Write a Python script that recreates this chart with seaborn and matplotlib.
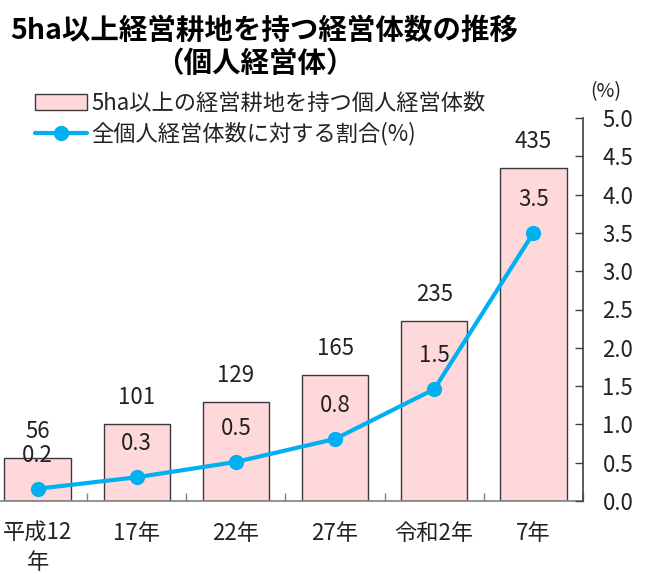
import numpy as np
import pandas as pd
import matplotlib
matplotlib.use("Agg")
import matplotlib.pyplot as plt
import seaborn as sns
from matplotlib.patches import Patch
from matplotlib.lines import Line2D
from matplotlib.ticker import MultipleLocator, FixedLocator

sns.set_theme(style="white")
plt.rcParams['font.family'] = ['Noto Sans CJK JP', 'DejaVu Sans']

categories = ["平成12\n年", "17年", "22年", "27年", "令和2年", "7年"]
farms = [56, 101, 129, 165, 235, 435]
ratio = [0.16, 0.31, 0.51, 0.81, 1.46, 3.5]

bar_label = "5ha以上の経営耕地を持つ個人経営体数"
line_label = "全個人経営体数に対する割合(%)"
title1 = "5ha以上経営耕地を持つ経営体数の推移"
title2 = "（個人経営体）"

bar_color = "#FFD8DB"
edge_color = "#3a3a3a"
line_color = "#00B0F0"

W, H = 652, 574
fig = plt.figure(figsize=(W / 100, H / 100), dpi=100)
ax = fig.add_axes([0, (H - 501) / H, 583 / W, (501 - 118) / H])

df = pd.DataFrame({"cat": categories, "farms": farms, "ratio": ratio})
df["pos"] = np.arange(len(categories))

sns.barplot(data=df, x="cat", y="farms", ax=ax, color=bar_color,
            edgecolor=edge_color, linewidth=1.0, width=0.67, saturation=1)
ax.set_xlim(-0.5 + 12 / 99, len(categories) - 0.5)
ax.set_ylim(0, 500)
ax.set_xlabel("")
ax.set_ylabel("")
ax.set_yticks([])
for s in ["left", "top", "right"]:
    ax.spines[s].set_visible(False)
ax.spines["bottom"].set_color("#808080")
ax.spines["bottom"].set_linewidth(1.2)
ax.tick_params(axis="x", which="major", length=0, pad=15, labelsize=16, labelcolor="#222222")
for t in ax.get_xticklabels():
    t.set_linespacing(1.35)
ax.xaxis.set_minor_locator(FixedLocator(np.arange(len(categories)) + 0.5))
ax.tick_params(axis="x", which="minor", direction="in", length=6, width=1, color="#808080", bottom=True)

for i, v in enumerate(farms):
    ax.annotate(str(v), (i, v), xytext=(0, 19), textcoords="offset points",
                ha="center", va="center", fontsize=16, color="#222222")

ax2 = ax.twinx()
sns.lineplot(data=df, x="pos", y="ratio", ax=ax2, color=line_color, linewidth=3,
             marker="o", markersize=11, markeredgewidth=0, markerfacecolor=line_color)
ax2.set_ylim(0, 5)
ax2.set_xlim(ax.get_xlim())
ax2.set_xlabel("")
ax2.set_ylabel("")
ax2.yaxis.set_major_locator(MultipleLocator(0.5))
ax2.yaxis.set_major_formatter(matplotlib.ticker.FormatStrFormatter("%.1f"))
ax2.tick_params(axis="y", direction="in", length=6, width=1, color="#404040",
                pad=14, labelsize=16, labelcolor="#222222", right=True)
for s in ["left", "top", "bottom"]:
    ax2.spines[s].set_visible(False)
ax2.spines["right"].set_color("#404040")
ax2.spines["right"].set_linewidth(1.2)
ax2.grid(False)

for i, v in enumerate(ratio):
    ax2.annotate(f"{v:.1f}", (i, v), xytext=(0, 24), textcoords="offset points",
                 ha="center", va="center", fontsize=16, color="#222222")

fig.text(606 / W, 1 - 92 / H, "(%)", ha="center", va="center", fontsize=14, color="#222222")

fig.text(10 / W, 1 - 31 / H, title1, ha="left", va="center", fontsize=20.5,
         fontweight="bold", color="black")
fig.text(255 / W, 1 - 64 / H, title2, ha="center", va="center", fontsize=20.5,
         fontweight="bold", color="black")

handles = [Patch(facecolor=bar_color, edgecolor=edge_color, linewidth=1.0),
           Line2D([0], [0], color=line_color, linewidth=3, marker="o",
                  markersize=11, markeredgewidth=0)]
leg = fig.legend(handles, [bar_label, line_label], loc="upper left",
                 bbox_to_anchor=(35 / W, 1 - 92 / H), frameon=False,
                 fontsize=16, handlelength=2.35, handleheight=0.7,
                 handletextpad=0.2, labelspacing=0.3, borderpad=0, borderaxespad=0)
for t in leg.get_texts():
    t.set_color("#222222")

fig.savefig("out.png", dpi=100)
